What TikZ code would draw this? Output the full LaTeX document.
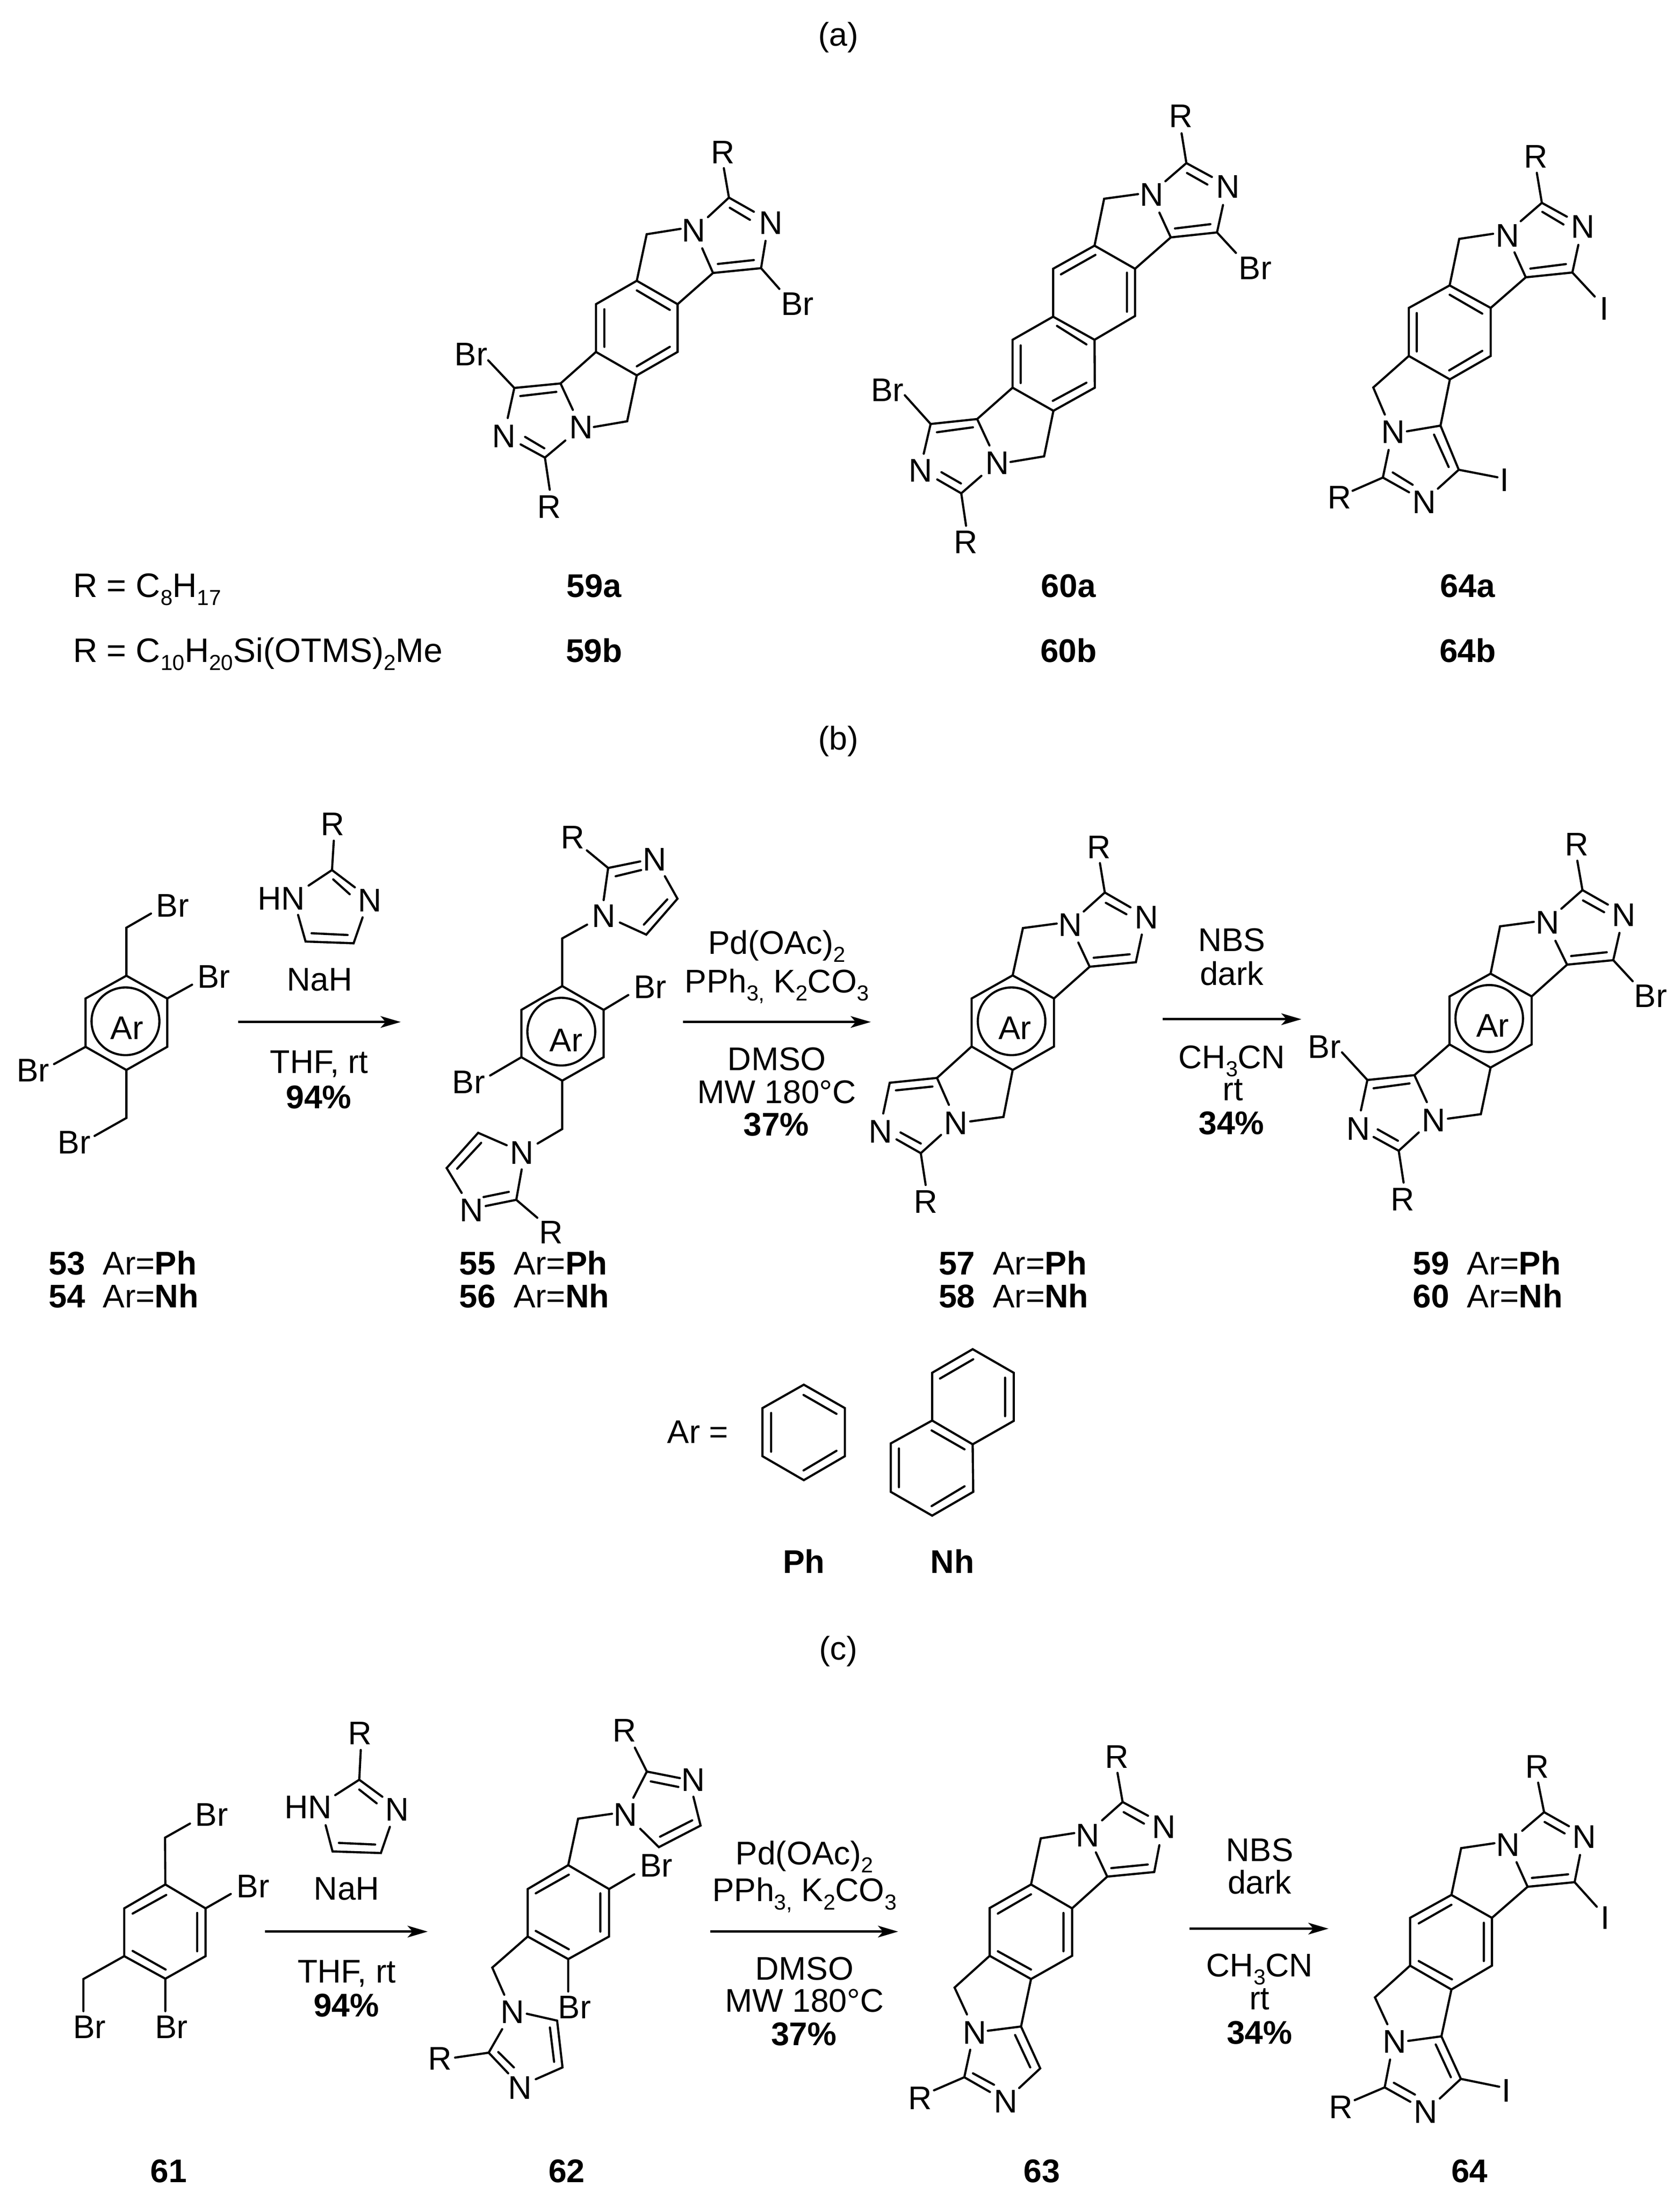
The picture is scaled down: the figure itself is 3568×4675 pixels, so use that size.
\documentclass[tikz,border=0pt]{standalone}
\usepackage{fontspec}
\setmainfont{Liberation Sans}
\usetikzlibrary{arrows.meta}
\newcounter{lblc}
\newcommand\mylab[3]{\stepcounter{lblc}\node[lbl] (t\arabic{lblc}) at (#1,#2) {#3};}
\newcommand\myleft[3]{\stepcounter{lblc}\node[lbl,anchor=base west] (t\arabic{lblc}) at (#1,#2) {#3};}
\newcommand\sbs[1]{\smash{\raisebox{-4.3pt}{\fontsize{11.5}{12}\selectfont #1}}}
\newcommand\cmpd[2]{\textbf{#1}\hspace{9.5pt}Ar=\textbf{#2}}
\tikzset{
  lbl/.style={inner sep=0pt,outer sep=0pt,anchor=base,font=\fontsize{17.4}{20}\selectfont,text=black},
  legend/.style={font=\fontsize{18}{20}\selectfont},
  bond/.style={draw=black,line width=1.15pt,line cap=round,line join=miter},
  rxn/.style={draw=black,line width=1.2pt,-{Stealth[length=10.7pt,width=6.2pt,inset=2.7pt]}},
  crop/.style n args={4}{shift={(#1,#2)},x={#3*0.25/1568*1pt},y={-#4*0.25/1568*1pt}}
}
\begin{document}
\begin{tikzpicture}[x=0.25pt,y=-0.25pt]
\useasboundingbox (0,0) rectangle (3568,4675);
\fill[white] (0,0) rectangle (3568,4675);
% section letters and legends
\mylab{1781}{98}{(a)}
\mylab{1781}{1592}{(b)}
\mylab{1781}{3525}{(c)}
\node[lbl,legend,anchor=base west] (leg1) at (155,1268) {R = C\sbs{8}H\sbs{17}};
\node[lbl,legend,anchor=base west] (leg2) at (155,1406) {R = C\sbs{10}H\sbs{20}Si(OTMS)\sbs{2}Me};
\mylab{1262}{1268}{\textbf{59a}}
\mylab{2270}{1268}{\textbf{60a}}
\mylab{3118}{1268}{\textbf{64a}}
\mylab{1262}{1406}{\textbf{59b}}
\mylab{2270}{1406}{\textbf{60b}}
\mylab{3118}{1406}{\textbf{64b}}
% 59a
\begin{scope}[crop={900}{150}{1000}{1000}]
\mylab{997}{310}{R}\mylab{900}{570}{N}\mylab{1157}{545}{N}\mylab{1245}{815}{Br}
\mylab{158}{983}{Br}\mylab{268}{1255}{N}\mylab{524}{1226}{N}\mylab{418}{1490}{R}
\draw[bond] (1000,325)--(1017,423)--(947,488) (1017,423)--(1100,470) (1020,457)--(1087,497)
 (1139,567)--(1124,658)--(964,674) (1100,631)--(980,644) (1124,658)--(1185,727)
 (928,592)--(964,674)--(846,778) (856,527)--(743,545)--(710,700)
 (710,700)--(846,778)--(846,937)--(710,1015)--(574,937)--(574,778)--cycle
 (710,732)--(820,797) (820,920)--(710,985) (602,795)--(602,920)
 (574,937)--(456,1042)--(497,1130) (710,1015)--(678,1168)--(567,1187)
 (456,1042)--(302,1057)--(215,965) (442,1070)--(322,1084) (302,1057)--(280,1157)
 (472,1232)--(404,1289)--(323,1245) (402,1258)--(338,1220) (404,1289)--(420,1396);
\end{scope}
% 60a
\begin{scope}[crop={1750}{150}{1000}{1100}]
\mylab{1190}{172}{R}\mylab{1093}{410}{N}\mylab{1347}{385}{N}\mylab{1437}{632}{Br}
\mylab{212}{1002}{Br}\mylab{323}{1245}{N}\mylab{578}{1222}{N}\mylab{473}{1462}{R}
\draw[bond] (1192,190)--(1208,280)--(1138,335) (1208,280)--(1293,322) (1210,310)--(1278,345)
 (1330,407)--(1310,490)--(1156,505) (1288,465)--(1170,478) (1310,490)--(1373,552)
 (1118,430)--(1156,505)--(1037,600) (1047,374)--(934,388)--(902,530)
 (902,530)--(1037,600)--(1037,743)--(902,815)--(764,745)--(764,600)--cycle
 (790,617)--(905,558) (1010,612)--(1010,730) (777,773)--(875,829)
 (764,745)--(629,815)--(629,960)--(765,1030)--(903,960)--(902,815)
 (656,832)--(656,946) (875,945)--(763,1000)
 (629,960)--(511,1055)--(552,1135) (765,1030)--(734,1168)--(622,1185)
 (511,1055)--(356,1070)--(270,983) (497,1080)--(377,1095) (356,1070)--(333,1160)
 (525,1227)--(458,1280)--(378,1238) (457,1250)--(392,1216) (458,1280)--(474,1378);
\end{scope}
% 64a
\begin{scope}[crop={2700}{230}{800}{1000}]
\mylab{1102}{198}{R}\mylab{985}{462}{N}\mylab{1298}{432}{N}\mylab{1387}{705}{I}
\mylab{972}{1275}{I}\mylab{509}{1116}{N}\mylab{638}{1350}{N}\mylab{285}{1334}{R}
\draw[bond] (1107,215)--(1128,315)--(1040,376) (1128,315)--(1232,361) (1130,345)--(1218,387)
 (1280,455)--(1255,547)--(1061,563) (1228,519)--(1080,534) (1255,547)--(1348,627)
 (1014,480)--(1061,563)--(915,665) (925,418)--(784,435)--(744,590)
 (744,590)--(915,665)--(915,825)--(745,903)--(574,825)--(574,665)--cycle
 (744,621)--(880,684) (880,808)--(742,873) (607,682)--(607,810)
 (574,825)--(426,930)--(474,1020) (745,903)--(706,1057)
 (566,1076)--(706,1057)--(782,1204)--(943,1229) (679,1087)--(740,1195) (782,1204)--(695,1267)
 (490,1138)--(466,1230)--(340,1274) (466,1230)--(575,1279) (507,1213)--(590,1254);
\end{scope}
% 53
\begin{scope}[crop={0}{1650}{1000}{1150}]
\mylab{575}{405}{Br}\mylab{712}{612}{Br}\mylab{110}{883}{Br}\mylab{247}{1092}{Br}\mylab{423}{760}{Ar}
\draw[bond] (421,576)--(557,642)--(557,782)--(421,849)--(285,782)--(285,642)--cycle
 (421,576)--(421,437)--(503,396) (557,642)--(640,602) (285,782)--(180,832) (421,849)--(421,988)--(315,1040);
\draw[bond] (418,708) ellipse [x radius=113,y radius=98];
\mylab{1108}{170}{R}\mylab{937}{385}{HN}\mylab{1232}{390}{N}
\draw[bond] (1112,185)--(1106,270)--(1028,315) (1106,270)--(1182,320) (1110,297)--(1165,340)
 (993,400)--(1018,477)--(1178,482)--(1208,407) (1038,453)--(1158,458);
\mylab{1065}{620}{NaH}\mylab{1063}{858}{THF, rt}\mylab{1062}{960}{\textbf{94\%}}
\myleft{162}{1442}{\cmpd{53}{Ph}}\myleft{162}{1538}{\cmpd{54}{Nh}}
\coordinate (a1s) at (793,710);\coordinate (a1e) at (1335,710);
\end{scope}
\draw[rxn] (a1s)--(a1e);
% 55
\begin{scope}[crop={850}{1650}{1000}{1150}]
\mylab{575}{208}{R}\mylab{848}{272}{N}\mylab{678}{436}{N}\mylab{833}{642}{Br}\mylab{553}{795}{Ar}
\mylab{228}{917}{Br}\mylab{405}{1122}{N}\mylab{237}{1288}{N}\mylab{503}{1352}{R}
\draw[bond] (540,606)--(678,675)--(678,812)--(540,880)--(404,812)--(404,675)--cycle
 (540,606)--(540,468)--(623,428) (678,675)--(760,632) (404,812)--(300,865) (540,880)--(540,1020)--(458,1062)
 (622,213)--(693,264)--(800,245) (718,288)--(803,270) (693,264)--(678,357)
 (882,288)--(924,353)--(820,457)--(732,422) (890,355)--(812,428)
 (355,1067)--(260,1031)--(155,1133)--(205,1205) (270,1060)--(190,1135)
 (405,1137)--(387,1225)--(285,1243) (362,1202)--(278,1217) (387,1225)--(457,1277);
\draw[bond] (537,738) ellipse [x radius=113,y radius=98];
\mylab{1255}{513}{Pd(OAc)\sbs{2}}\mylab{1255}{625}{PPh\sbs{3,} K\sbs{2}CO\sbs{3}}
\mylab{1255}{850}{DMSO}\mylab{1255}{945}{MW 180°C}\mylab{1253}{1040}{\textbf{37\%}}
\myleft{197}{1442}{\cmpd{55}{Ph}}\myleft{197}{1538}{\cmpd{56}{Nh}}
\coordinate (a2s) at (942,710);
\end{scope}
% 57
\begin{scope}[crop={1800}{1650}{900}{1150}]
\coordinate (a2e) at (87,710);
\mylab{932}{236}{R}\mylab{825}{462}{N}\mylab{1107}{440}{N}\mylab{620}{760}{Ar}
\mylab{123}{1060}{N}\mylab{402}{1036}{N}\mylab{290}{1263}{R}
\draw[bond] (612,575)--(765,642)--(765,781)--(612,849)--(460,781)--(460,642)--cycle
 (935,250)--(953,335)--(875,390) (953,335)--(1048,378) (957,365)--(1033,398)
 (1090,457)--(1068,537)--(897,550) (1045,514)--(912,524) (855,480)--(897,550)--(765,642)
 (775,425)--(650,438)--(612,575)
 (460,781)--(332,872)--(376,950) (612,849)--(578,985)--(455,998)
 (332,872)--(157,886)--(133,975) (315,897)--(180,908)
 (347,1037)--(272,1090)--(182,1050) (272,1062)--(197,1030) (272,1090)--(290,1182);
\draw[bond] (608,708) ellipse [x radius=125,y radius=98];
\mylab{1423}{505}{NBS}\mylab{1423}{603}{dark}\mylab{1423}{845}{CH\sbs{3}CN}\mylab{1427}{937}{rt}\mylab{1422}{1035}{\textbf{34\%}}
\myleft{338}{1442}{\cmpd{57}{Ph}}\myleft{338}{1538}{\cmpd{58}{Nh}}
\coordinate (a3s) at (1167,702);
\end{scope}
\draw[rxn] (a2s)--(a2e);
% 59
\begin{scope}[crop={2650}{1650}{900}{1150}]
\coordinate (a3e) at (200,702);
\mylab{1218}{228}{R}\mylab{1110}{455}{N}\mylab{1393}{433}{N}\mylab{1492}{667}{Br}\mylab{908}{753}{Ar}
\mylab{285}{815}{Br}\mylab{410}{1052}{N}\mylab{690}{1027}{N}\mylab{574}{1256}{R}
\draw[bond] (900,570)--(1052,636)--(1052,775)--(900,842)--(748,775)--(748,636)--cycle
 (1221,243)--(1240,328)--(1162,382) (1240,328)--(1334,370) (1242,358)--(1320,392)
 (1377,452)--(1354,531)--(1183,544) (1330,508)--(1198,519) (1140,475)--(1183,544)--(1052,636)
 (1060,420)--(935,433)--(900,570) (1354,531)--(1426,592)
 (748,775)--(618,864)--(664,942) (900,842)--(864,977)--(742,990)
 (618,864)--(444,878)--(350,798) (600,888)--(467,902) (444,878)--(420,966)
 (634,1030)--(560,1083)--(467,1043) (557,1054)--(482,1021) (560,1083)--(578,1175);
\draw[bond] (895,700) ellipse [x radius=125,y radius=97];
\myleft{612}{1442}{\cmpd{59}{Ph}}\myleft{612}{1538}{\cmpd{60}{Nh}}
\end{scope}
\draw[rxn] (a3s)--(a3e);
% Ph, Nh
\begin{scope}[crop={1350}{2780}{900}{600}]
\myleft{118}{745}{Ar =}
\draw[bond] (623,421)--(775,551)--(775,818)--(623,951)--(470,818)--(470,551)--cycle
 (622,478)--(744,583) (744,788)--(622,897) (502,578)--(502,793)
 (1248,224)--(1400,355)--(1400,622)--(1248,752)--(1098,620)--(1098,355)--cycle
 (1250,280)--(1127,387) (1368,382)--(1368,596) (1096,675)--(1218,780)
 (1098,620)--(945,747)--(945,1016)--(1098,1148)--(1250,1016)--(1248,752)
 (975,775)--(975,990) (1218,985)--(1096,1095);
\mylab{623}{1467}{\textbf{Ph}}\mylab{1173}{1467}{\textbf{Nh}}
\end{scope}
% 61
\begin{scope}[crop={100}{3580}{1000}{1090}]
\mylab{548}{430}{Br}\mylab{686}{648}{Br}\mylab{141}{1078}{Br}\mylab{414}{1078}{Br}
\draw[bond] (394,608)--(528,681)--(528,827)--(394,896)--(257,827)--(257,681)--cycle
 (397,640)--(285,697) (500,695)--(500,812) (285,811)--(395,868)
 (394,608)--(393,465)--(476,422) (528,681)--(612,637) (257,827)--(121,897)--(121,995) (394,896)--(394,995);
\mylab{1043}{180}{R}\mylab{870}{406}{HN}\mylab{1166}{413}{N}
\draw[bond] (1045,197)--(1040,288)--(960,335) (1040,288)--(1117,340) (1040,318)--(1098,360)
 (928,427)--(951,507)--(1112,512)--(1142,432) (972,481)--(1093,486);
\mylab{998}{655}{NaH}\mylab{998}{908}{THF, rt}\mylab{997}{1012}{\textbf{94\%}}\mylab{405}{1518}{\textbf{61}}
\coordinate (b1s) at (726,752);\coordinate (b1e) at (1268,752);
\end{scope}
\draw[rxn] (b1s)--(b1e);
% 62
\begin{scope}[crop={850}{3580}{1000}{1090}]
\mylab{747}{172}{R}\mylab{977}{323}{N}\mylab{751}{430}{N}\mylab{853}{585}{Br}
\mylab{581}{1018}{Br}\mylab{374}{1032}{N}\mylab{133}{1175}{R}\mylab{400}{1264}{N}
\draw[bond] (560,549)--(696,622)--(696,767)--(560,836)--(425,767)--(425,622)--cycle
 (562,578)--(452,635) (667,635)--(667,752) (452,750)--(562,806)
 (560,549)--(593,407)--(706,392) (696,622)--(780,577) (425,767)--(307,862)--(347,945) (560,836)--(560,935)
 (782,190)--(822,263)--(777,343) (822,263)--(932,283) (835,293)--(927,310)
 (977,340)--(1001,428)--(862,494)--(800,438) (973,412)--(866,462)
 (422,1003)--(523,1024)--(541,1167)--(452,1203) (499,1045)--(513,1150)
 (340,1050)--(295,1122)--(183,1137) (295,1122)--(360,1185) (327,1120)--(379,1167);
\mylab{1347}{547}{Pd(OAc)\sbs{2}}\mylab{1347}{660}{PPh\sbs{3,} K\sbs{2}CO\sbs{3}}
\mylab{1347}{900}{DMSO}\mylab{1347}{998}{MW 180°C}\mylab{1345}{1100}{\textbf{37\%}}\mylab{555}{1518}{\textbf{62}}
\coordinate (b2s) at (1033,752);
\end{scope}
% 63
\begin{scope}[crop={1800}{3580}{900}{1090}]
\coordinate (b2e) at (188,752);
\mylab{998}{252}{R}\mylab{890}{492}{N}\mylab{1172}{467}{N}\mylab{471}{1095}{N}\mylab{586}{1305}{N}\mylab{270}{1295}{R}
\draw[bond] (680,608)--(832,681)--(832,826)--(680,897)--(527,826)--(527,680)--cycle
 (680,638)--(557,697) (800,695)--(800,812) (557,812)--(680,868)
 (1000,267)--(1019,356)--(943,412) (1019,356)--(1113,398) (1023,387)--(1098,422)
 (1155,488)--(1136,570)--(962,584) (1112,547)--(977,558) (920,510)--(962,584)--(832,681)
 (840,451)--(716,467)--(680,608)
 (527,826)--(397,923)--(443,1005) (680,897)--(643,1042)
 (520,1055)--(643,1042)--(714,1170)--(636,1230) (621,1068)--(677,1167)
 (455,1113)--(433,1197)--(321,1237) (433,1197)--(528,1242) (465,1185)--(543,1220);
\mylab{1526}{537}{NBS}\mylab{1526}{637}{dark}\mylab{1526}{890}{CH\sbs{3}CN}\mylab{1526}{990}{rt}\mylab{1526}{1095}{\textbf{34\%}}
\mylab{720}{1518}{\textbf{63}}
\coordinate (b3s) at (1267,743);
\end{scope}
\draw[rxn] (b2s)--(b2e);
% 64
\begin{scope}[crop={2650}{3580}{900}{1090}]
\coordinate (b3e) at (300,743);
\mylab{1072}{282}{R}\mylab{965}{522}{N}\mylab{1247}{497}{N}\mylab{1325}{745}{I}
\mylab{958}{1272}{I}\mylab{545}{1123}{N}\mylab{660}{1337}{N}\mylab{346}{1323}{R}
\draw[bond] (755,640)--(905,710)--(905,856)--(755,929)--(602,856)--(602,710)--cycle
 (755,670)--(634,727) (875,725)--(875,842) (634,842)--(757,898)
 (1076,297)--(1098,387)--(1017,444) (1098,387)--(1190,430) (1100,417)--(1174,452)
 (1231,518)--(1211,601)--(1037,615) (1187,577)--(1053,588) (996,540)--(1037,615)--(905,710)
 (914,482)--(791,497)--(755,640) (1211,601)--(1293,676)
 (602,856)--(472,953)--(518,1035) (755,929)--(718,1072)
 (595,1086)--(718,1072)--(790,1202)--(712,1262) (697,1097)--(753,1197) (790,1202)--(932,1226)
 (528,1143)--(508,1228)--(397,1267) (508,1228)--(603,1272) (542,1214)--(620,1250);
\mylab{822}{1518}{\textbf{64}}
\end{scope}
\draw[rxn] (b3s)--(b3e);
\end{tikzpicture}
\end{document}
